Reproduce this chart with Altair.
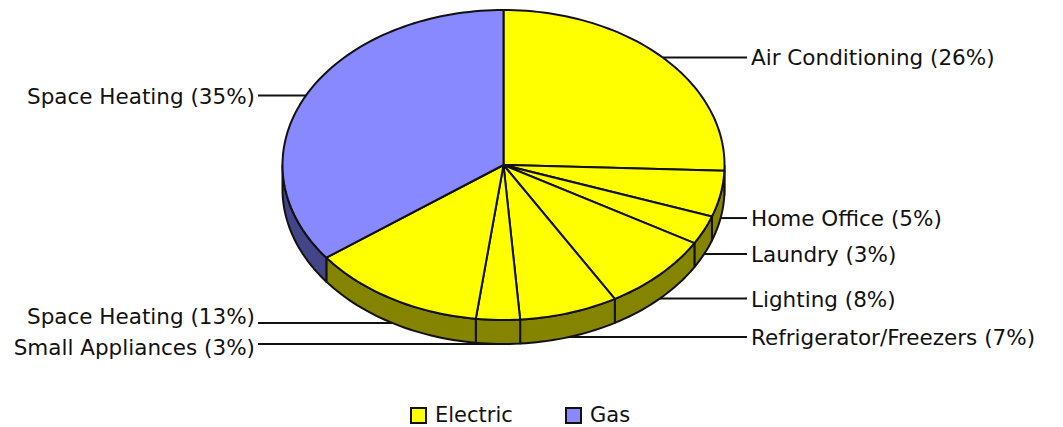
import math
import altair as alt
import pandas as pd

# ---- chart values ----
names = ["Air Conditioning", "Home Office", "Laundry", "Lighting",
         "Refrigerator/Freezers", "Small Appliances", "Space Heating", "Space Heating"]
shown = [26, 5, 3, 8, 7, 3, 13, 35]
shares = [25.6, 4.8, 3.0, 8.2, 7.2, 3.2, 12.8, 35.2]
series = ["Electric"] * 7 + ["Gas"]
series_names = ["Electric", "Gas"]
top_colors = ["#ffff00", "#8888ff"]
side_colors = {"Electric": "#848400", "Gas": "#444488"}

# ---- layout: pie geometry in reference pixels ----
W, H = 1047, 418
CX, CY, RX, RY, DEPTH = 503.5, 165, 221, 155, 24
LABEL_NUDGE = [0, 0, 0, 0, 0, 3, -7, 0]   # vertical shift of the label from its leader
FONT = "DejaVu Sans"
FS = 21.5
INK = "#111111"
SW = 2

def u(px):
    return (px - CX) / RX

def v(py):
    return (CY - py) / RY

dv = DEPTH / RY

def rim(deg):
    a = math.radians(deg)
    return math.sin(a), math.cos(a)

def arc(a, b):
    n = max(2, int(abs(b - a) / 1.5) + 2)
    return [rim(a + (b - a) * i / (n - 1)) for i in range(n)]

top_rows, side_rows, lead_rows = [], [], []
start = 0.0
for i, (name, pct, share, ser) in enumerate(zip(names, shown, shares, series)):
    a, b = start * 3.6, (start + share) * 3.6
    pts = [(0.0, 0.0)] + arc(a, b) + [(0.0, 0.0)]
    for k, (x, y) in enumerate(pts):
        top_rows.append({"slice": i, "k": k, "x": x, "y": y, "series": ser})
    lo, hi = max(a, 90), min(b, 270)
    if hi > lo:
        edge = arc(lo, hi)
        ring = [(x, y) for x, y in edge] + [(x, y - dv) for x, y in reversed(edge)]
        ring.append(ring[0])
        for k, (x, y) in enumerate(ring):
            side_rows.append({"slice": i, "k": k, "x": x, "y": y, "col": side_colors[ser]})
    mx, my = rim((a + b) / 2)
    front = math.cos(math.radians((a + b) / 2)) < 0
    ly = my - dv if front else my
    right = mx > 0
    lead_rows.append({
        "x": mx, "y": ly, "x2": u(747) if right else u(258),
        "lx": u(751) if right else u(255),
        "ly": ly - LABEL_NUDGE[i] / RY,
        "text": f"{name} ({pct}%)", "side": "r" if right else "l",
    })
    start += share

xs = alt.Scale(domain=[u(8), u(8 + W)], range=[0, W], nice=False, zero=False)
ys = alt.Scale(domain=[v(8 + H), v(8)], range=[H, 0], nice=False, zero=False)
X = lambda f: alt.X(f, type="quantitative", scale=xs, axis=None)
Y = lambda f: alt.Y(f, type="quantitative", scale=ys, axis=None)

leads = pd.DataFrame(lead_rows)

leaders = alt.Chart(leads).mark_rule(color=INK, strokeWidth=SW).encode(
    x=X("x"), x2="x2:Q", y=Y("y"))

sides = alt.Chart(pd.DataFrame(side_rows)).mark_line(
    stroke=INK, strokeWidth=SW, strokeJoin="round").encode(
    x=X("x"), y=Y("y"), detail="slice:N", order="k:Q",
    fill=alt.Fill("col:N", scale=None))

tops = alt.Chart(pd.DataFrame(top_rows)).mark_line(
    stroke=INK, strokeWidth=SW, strokeJoin="round").encode(
    x=X("x"), y=Y("y"), detail="slice:N", order="k:Q",
    fill=alt.Fill("series:N",
                  scale=alt.Scale(domain=series_names, range=top_colors),
                  legend=alt.Legend(
                      title=None, orient="none", direction="horizontal",
                      legendX=400, legendY=397,
                      symbolType="square", symbolSize=225,
                      symbolStrokeColor=INK, symbolStrokeWidth=2,
                      labelFont=FONT, labelFontSize=21, labelColor=INK,
                      labelOffset=6, columnPadding=49, symbolOpacity=1,
                      padding=0)))

right_text = alt.Chart(leads[leads.side == "r"]).mark_text(
    align="left", baseline="middle", dy=2, font=FONT, fontSize=FS, color=INK).encode(
    x=X("lx"), y=Y("ly"), text="text:N")
left_text = alt.Chart(leads[leads.side == "l"]).mark_text(
    align="right", baseline="middle", dy=2, font=FONT, fontSize=FS, color=INK).encode(
    x=X("lx"), y=Y("ly"), text="text:N")

chart = alt.layer(leaders, sides, tops, right_text, left_text).resolve_scale(
    fill="independent"
).properties(
    width=W, height=H, padding=0,
    autosize=alt.AutoSizeParams(type="none"),
).configure_view(stroke=None)

chart.save("out.html", embed_options={"renderer": "svg", "actions": False})
